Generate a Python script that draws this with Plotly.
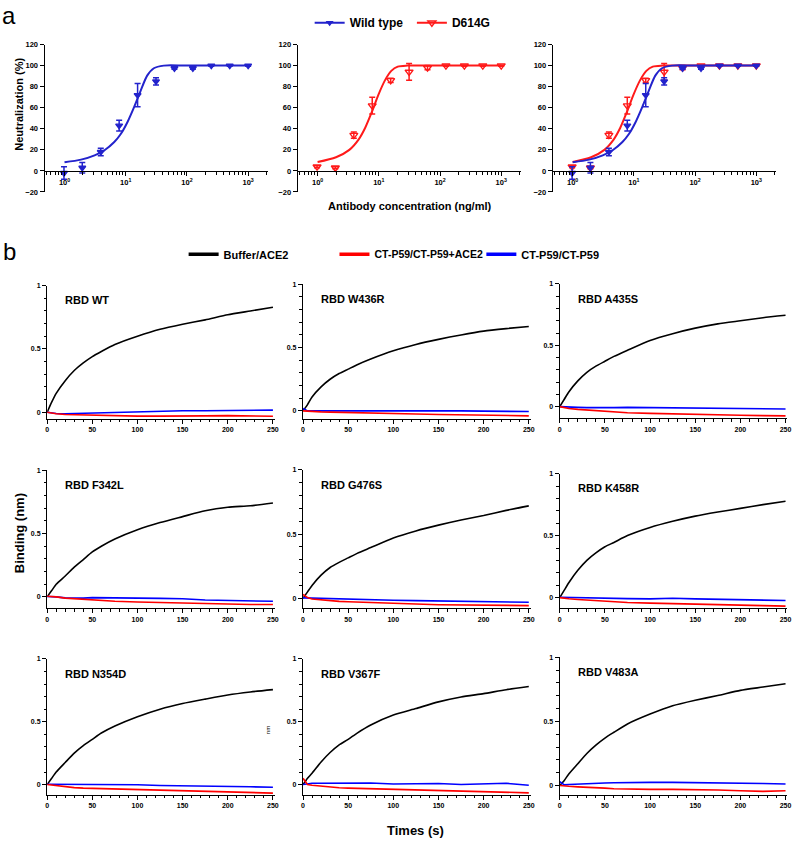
import plotly.graph_objects as go

W, H = 796, 842


def px_x(v):
    return v / W


def px_y(v):
    return 1 - v / H


FONT = "Arial, 'Liberation Sans', sans-serif"
BLUE_A = "#2323cc"
RED_A = "#ff1a1a"
RED_B = "#ff0000"
BLUE_B = "#0000ff"

# ---------------- panel a : neutralization ----------------
conc = [0.98, 1.95, 3.91, 7.81, 15.63, 31.25, 62.5, 125, 250, 500, 1000]
wt_neut = [-2, 3, 18, 43, 72, 85, 97.5, 97.5, 100, 100, 100]
wt_err = [6, 5, 3.5, 5, 11, 3.5, 1, 1, 0.5, 0.5, 0.5]
d614g_neut = [4, 3, 34, 62, 86, 94, 98, 100, 100, 100, 100]
d614g_err = [1, 1, 3, 8, 2, 8, 2, 0.5, 0.5, 0.5, 0.5]

wt_fit_x = [1, 1.86, 3.1, 4.5, 6.5, 8.3, 10.6, 13.7, 17.5, 22.4, 28.8, 41.9, 100, 1000]
wt_fit_y = [8.2, 10.7, 14.8, 19.6, 27.4, 35, 46, 60.6, 76, 90.5, 97.5, 100, 100, 100]
d614g_fit_x = [1, 2.0, 3.3, 4.7, 6.0, 7.7, 9.8, 12.6, 16, 20.4, 29.4, 100, 1000]
d614g_fit_y = [8.4, 13, 20, 30, 41, 56, 72, 86, 95, 99, 100, 100, 100]

decade_ticks = [1, 10, 100, 1000]
decade_labels = ["10<sup>0</sup>", "10<sup>1</sup>", "10<sup>2</sup>", "10<sup>3</sup>"]

# ---------------- panel b : binding kinetics ----------------
time_s = [0, 5, 10, 20, 30, 40, 50, 60, 75, 100, 125, 150, 175, 200, 225, 250]
variants = ["RBD WT", "RBD W436R", "RBD A435S",
            "RBD F342L", "RBD G476S", "RBD K458R",
            "RBD N354D", "RBD V367F", "RBD V483A"]

buffer_ace2 = {
    "RBD WT": [0, 0.08, 0.15, 0.25, 0.33, 0.39, 0.44, 0.48, 0.535, 0.6, 0.655, 0.695, 0.73, 0.77, 0.8, 0.83],
    "RBD W436R": [0, 0.05, 0.11, 0.19, 0.25, 0.295, 0.33, 0.365, 0.41, 0.475, 0.525, 0.565, 0.6, 0.63, 0.65, 0.667],
    "RBD A435S": [0, 0.06, 0.12, 0.21, 0.28, 0.33, 0.37, 0.41, 0.46, 0.54, 0.595, 0.64, 0.675, 0.7, 0.725, 0.745],
    "RBD F342L": [0, 0.05, 0.1, 0.165, 0.235, 0.295, 0.355, 0.4, 0.457, 0.53, 0.587, 0.634, 0.68, 0.708, 0.72, 0.742],
    "RBD G476S": [0, 0.05, 0.1, 0.18, 0.24, 0.28, 0.315, 0.35, 0.395, 0.47, 0.525, 0.57, 0.61, 0.645, 0.685, 0.72],
    "RBD K458R": [0, 0.06, 0.12, 0.22, 0.3, 0.36, 0.41, 0.445, 0.5, 0.565, 0.615, 0.657, 0.69, 0.72, 0.75, 0.777],
    "RBD N354D": [0, 0.05, 0.1, 0.176, 0.25, 0.31, 0.36, 0.41, 0.466, 0.54, 0.6, 0.645, 0.68, 0.713, 0.737, 0.756],
    "RBD V367F": [0, 0.05, 0.09, 0.18, 0.255, 0.316, 0.36, 0.41, 0.474, 0.553, 0.605, 0.658, 0.697, 0.724, 0.755, 0.78],
    "RBD V483A": [0, 0.04, 0.09, 0.17, 0.25, 0.315, 0.37, 0.415, 0.48, 0.557, 0.622, 0.665, 0.702, 0.742, 0.768, 0.794],
}
p59_ace2 = {
    "RBD WT": [0, -0.008, -0.012, -0.018, -0.02, -0.022, -0.025, -0.027, -0.028, -0.03, -0.03, -0.032, -0.028, -0.026, -0.028, -0.031],
    "RBD W436R": [0, -0.003, -0.005, -0.008, -0.01, -0.012, -0.014, -0.016, -0.02, -0.022, -0.025, -0.028, -0.03, -0.033, -0.036, -0.039],
    "RBD A435S": [0, -0.008, -0.015, -0.022, -0.028, -0.034, -0.04, -0.045, -0.05, -0.055, -0.06, -0.065, -0.068, -0.07, -0.073, -0.075],
    "RBD F342L": [0.005, 0.004, 0, -0.01, -0.015, -0.022, -0.028, -0.032, -0.035, -0.04, -0.045, -0.05, -0.055, -0.06, -0.06, -0.06],
    "RBD G476S": [0.03, 0.005, -0.005, -0.012, -0.02, -0.024, -0.027, -0.03, -0.035, -0.04, -0.045, -0.05, -0.052, -0.055, -0.056, -0.057],
    "RBD K458R": [0, -0.006, -0.01, -0.015, -0.02, -0.025, -0.03, -0.035, -0.04, -0.045, -0.05, -0.055, -0.058, -0.06, -0.065, -0.069],
    "RBD N354D": [0, -0.005, -0.01, -0.018, -0.024, -0.028, -0.03, -0.033, -0.036, -0.04, -0.045, -0.05, -0.055, -0.06, -0.065, -0.068],
    "RBD V367F": [0.05, 0, -0.005, -0.012, -0.02, -0.025, -0.028, -0.03, -0.035, -0.04, -0.045, -0.05, -0.055, -0.06, -0.063, -0.066],
    "RBD V483A": [0, -0.004, -0.006, -0.01, -0.012, -0.016, -0.02, -0.025, -0.028, -0.03, -0.03, -0.03, -0.035, -0.04, -0.045, -0.04],
}
p59_only = {
    "RBD WT": [0, -0.008, -0.01, -0.012, -0.01, -0.008, -0.005, -0.002, 0, 0.005, 0.01, 0.012, 0.012, 0.015, 0.016, 0.017],
    "RBD W436R": [0.02, 0, 0, 0, 0, 0.002, 0.003, 0.004, 0.005, 0.005, 0.005, 0.002, 0, -0.002, -0.003, -0.005],
    "RBD A435S": [0, 0, -0.003, -0.006, -0.008, -0.01, -0.01, -0.008, -0.006, -0.008, -0.01, -0.012, -0.014, -0.016, -0.018, -0.019],
    "RBD F342L": [0.003, 0.002, 0, -0.008, -0.01, -0.01, -0.006, -0.008, -0.01, -0.01, -0.012, -0.015, -0.025, -0.03, -0.03, -0.035],
    "RBD G476S": [0.003, 0.002, 0, -0.004, -0.006, -0.008, -0.01, -0.012, -0.013, -0.015, -0.018, -0.02, -0.022, -0.025, -0.028, -0.031],
    "RBD K458R": [0.003, 0.002, 0, -0.002, -0.004, -0.005, -0.005, -0.006, -0.008, -0.01, -0.005, -0.01, -0.015, -0.02, -0.022, -0.024],
    "RBD N354D": [0.003, 0.003, 0.003, 0.002, 0.001, 0, 0, 0, -0.001, -0.002, -0.008, -0.012, -0.013, -0.015, -0.018, -0.021],
    "RBD V367F": [0, 0.008, 0.01, 0.01, 0.01, 0.01, 0.01, 0.01, 0.012, 0.005, 0.006, 0.008, 0, 0.004, 0.01, -0.005],
    "RBD V483A": [0.03, 0.005, 0.008, 0.012, 0.015, 0.018, 0.02, 0.022, 0.025, 0.025, 0.025, 0.024, 0.022, 0.02, 0.016, 0.012],
}

fig = go.Figure()
layout = {}

axis_common = dict(
    ticks="outside", ticklen=4, tickwidth=1.2, tickcolor="black", color="black",
    showline=True, linecolor="black", linewidth=1.3, showgrid=False, zeroline=False,
    ticklabeloverflow="allow", fixedrange=True,
)

# ---- panel a axes ----
a_xdom = [(43, 268), (298, 523), (555, 780)]
a_ytop, a_ybot = 41, 190
a_zero = a_ytop + 120 / 140 * (a_ybot - a_ytop)
minor_log = [0.5, 0.6, 0.7, 0.8, 0.9] + [m * d for d in (1, 10, 100) for m in range(2, 10)] + [2000]
for i, (x0, x1) in enumerate(a_xdom, start=1):
    sfx = "" if i == 1 else str(i)
    layout["xaxis" + sfx] = dict(
        domain=[px_x(x0), px_x(x1)], anchor="free", position=px_y(a_zero),
        type="log", range=[-0.324, 3.324], tickmode="array",
        tickvals=decade_ticks, ticktext=decade_labels,
        minor=dict(tickvals=minor_log, ticks="outside", ticklen=2.5, tickwidth=1, tickcolor="black"),
        tickfont=dict(size=7.5, color="black"), **axis_common,
    )
    layout["yaxis" + sfx] = dict(
        domain=[px_y(a_ybot), px_y(a_ytop)], anchor="x" + sfx,
        range=[-20, 120], tickmode="linear", tick0=-20, dtick=20,
        tickfont=dict(size=7.5, color="black"), **axis_common,
    )


def add_neut(axis_idx, x_fit, y_fit, y_pts, err, color, symbol, msize):
    xa = "x" if axis_idx == 1 else "x%d" % axis_idx
    ya = "y" if axis_idx == 1 else "y%d" % axis_idx
    fig.add_trace(go.Scatter(x=x_fit, y=y_fit, mode="lines", xaxis=xa, yaxis=ya,
                             line=dict(color=color, width=2, shape="spline", smoothing=0.8),
                             showlegend=False, hoverinfo="skip"))
    fig.add_trace(go.Scatter(x=conc, y=y_pts, mode="markers", xaxis=xa, yaxis=ya,
                             marker=dict(symbol=symbol, size=msize, color=color,
                                         line=dict(color=color, width=1.4)),
                             error_y=dict(type="data", array=err, color=color, thickness=1.5, width=3),
                             showlegend=False))


add_neut(1, wt_fit_x, wt_fit_y, wt_neut, wt_err, BLUE_A, "triangle-down", 6)
add_neut(2, d614g_fit_x, d614g_fit_y, d614g_neut, d614g_err, RED_A, "triangle-down-open", 7)
add_neut(3, d614g_fit_x, d614g_fit_y, d614g_neut, d614g_err, RED_A, "triangle-down-open", 7)
add_neut(3, wt_fit_x, wt_fit_y, wt_neut, wt_err, BLUE_A, "triangle-down", 6)

# ---- panel b axes ----
b_x0 = [45.5, 303.3, 562]
b_w = 229.3
b_rows = [
    [(284.7, 412.7, 419.3), (283.3, 411.3, 419.3), (283, 407, 418.7)],
    [(471.3, 599.3, 610.7), (471, 600.7, 610.7), (474.7, 600, 610.7)],
    [(662, 789, 799.3), (662, 789, 799.3), (660.3, 790, 799.3)],
]
annotations = []
for k, name in enumerate(variants):
    r, c = divmod(k, 3)
    idx = 4 + k
    top, zero, bot = b_rows[r][c]
    x0 = b_x0[c]
    ylow = -(bot - zero) / (zero - top)
    layout["xaxis%d" % idx] = dict(
        domain=[px_x(x0), px_x(x0 + b_w)], anchor="y%d" % idx,
        range=[0, 252], tickmode="linear", tick0=0, dtick=50,
        minor=dict(dtick=10, tick0=0, ticks="outside", ticklen=2.5, tickwidth=1, tickcolor="black"),
        tickfont=dict(size=7, color="black"), **axis_common,
    )
    layout["yaxis%d" % idx] = dict(
        domain=[px_y(bot), px_y(top)], anchor="x%d" % idx,
        range=[ylow, 1], tickmode="array", tickvals=[0, 0.5, 1], ticktext=["0", "0.5", "1"],
        minor=dict(dtick=0.1, tick0=0, ticks="outside", ticklen=2.5, tickwidth=1, tickcolor="black"),
        tickfont=dict(size=7, color="black"), **axis_common,
    )
    xa, ya = "x%d" % idx, "y%d" % idx
    fig.add_trace(go.Scatter(x=time_s, y=buffer_ace2[name], mode="lines", xaxis=xa, yaxis=ya,
                             line=dict(color="black", width=1.6, shape="spline", smoothing=0.6),
                             showlegend=False))
    fig.add_trace(go.Scatter(x=time_s, y=p59_only[name], mode="lines", xaxis=xa, yaxis=ya,
                             line=dict(color=BLUE_B, width=1.6), showlegend=False))
    fig.add_trace(go.Scatter(x=time_s, y=p59_ace2[name], mode="lines", xaxis=xa, yaxis=ya,
                             line=dict(color=RED_B, width=1.6), showlegend=False))
    annotations.append(dict(x=px_x(x0 + 16), y=px_y(top + 15), xref="paper", yref="paper",
                            text=name, showarrow=False, xanchor="left", yanchor="middle",
                            font=dict(size=11)))

# ---- legend entries ----
legend_items = [
    ("Wild type", dict(color=BLUE_A, width=2), dict(symbol="triangle-down", size=7, color=BLUE_A), "legend", 310, 19, 12),
    ("D614G", dict(color=RED_A, width=2), dict(symbol="triangle-down-open", size=7, color=RED_A, line=dict(color=RED_A, width=1.4)), "legend2", 413, 19, 12),
    ("Buffer/ACE2", dict(color="black", width=3.5), None, "legend3", 183, 253, 11),
    ("CT-P59/CT-P59+ACE2", dict(color=RED_B, width=3.5), None, "legend4", 335, 253, 10.5),
    ("CT-P59/CT-P59", dict(color=BLUE_B, width=3.5), None, "legend5", 483, 253, 11),
]
for label, line, marker, leg, lx, ly, fsize in legend_items:
    fig.add_trace(go.Scatter(x=[None], y=[None], mode="lines+markers" if marker else "lines",
                             name=label, line=line, marker=marker, legend=leg, showlegend=True))
    layout[leg] = dict(x=px_x(lx), y=px_y(ly), xanchor="left", yanchor="middle",
                       orientation="h", bgcolor="rgba(0,0,0,0)", borderwidth=0,
                       font=dict(size=fsize, family=FONT, color="black", weight="bold"),
                       itemclick=False, itemdoubleclick=False)

# ---- titles and panel letters ----
annotations += [
    dict(x=px_x(7), y=px_y(12), text="a", font=dict(size=24, weight="normal")),
    dict(x=px_x(8), y=px_y(250), text="b", font=dict(size=24, weight="normal")),
    dict(x=px_x(17), y=px_y(101), text="Neutralization (%)", textangle=-90, font=dict(size=11)),
    dict(x=px_x(411), y=px_y(204), text="Antibody concentration (ng/ml)", font=dict(size=11)),
    dict(x=px_x(17), y=px_y(535), text="Binding (nm)", textangle=-90, font=dict(size=13)),
    dict(x=px_x(417), y=px_y(835), text="Times (s)", font=dict(size=13)),
    dict(x=px_x(268), y=px_y(734), text="nm", textangle=-90, font=dict(size=6, weight="normal")),
]
for a in annotations:
    a.setdefault("xref", "paper")
    a.setdefault("yref", "paper")
    a.setdefault("showarrow", False)
    a.setdefault("xanchor", "center")
    a.setdefault("yanchor", "middle")

fig.update_layout(
    width=W, height=H, margin=dict(l=0, r=0, t=0, b=0),
    paper_bgcolor="white", plot_bgcolor="rgba(0,0,0,0)",
    font=dict(family=FONT, color="black", size=8, weight="bold"),
    showlegend=True, annotations=annotations, **layout,
)

# drop the default page margin so the figure sits at the window's top-left corner
fig.write_html("out.html", config={"displayModeBar": False},
               post_script="document.body.style.margin='0';document.body.style.overflow='hidden';")
